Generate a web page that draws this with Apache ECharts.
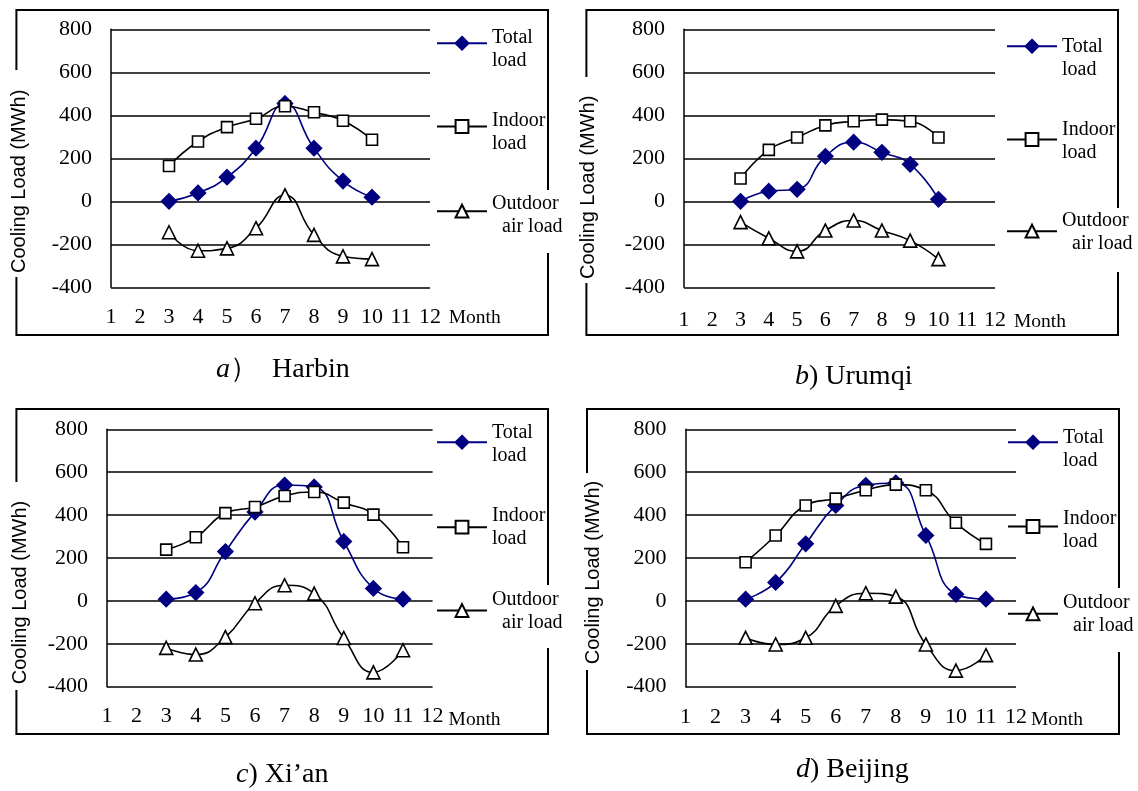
<!DOCTYPE html>
<html>
<head>
<meta charset="utf-8">
<script src="https://cdn.jsdelivr.net/npm/echarts@6/dist/echarts.min.js"></script>
<style>
html,body{margin:0;padding:0;background:#fff;}
#chart{width:1138px;height:791px;}
</style>
</head>
<body>
<div id="chart"></div>
<script>
// ---------- DATA ----------
const seriesNames = ['Total load', 'Indoor load', 'Outdoor air load'];
const legendLines = [['Total', 'load'], ['Indoor', 'load'], ['Outdoor', '  air load']];
const yTicks = [-400, -200, 0, 200, 400, 600, 800];
const monthTicks = [1,2,3,4,5,6,7,8,9,10,11,12];

const harbinMonths  = [3, 4, 5, 6, 7, 8, 9, 10];
const harbinTotal   = [0, 39, 112, 247, 455, 247, 94, 19];
const harbinIndoor  = [164, 278, 345, 384, 442, 414, 375, 286];
const harbinOutdoor = [-144, -230, -219, -125, 28, -156, -256, -269];

const urumqiMonths  = [3, 4, 5, 6, 7, 8, 9, 10];
const urumqiTotal   = [0, 47, 56, 209, 275, 228, 172, 9];
const urumqiIndoor  = [106, 239, 297, 353, 372, 380, 372, 297];
const urumqiOutdoor = [-97, -172, -233, -136, -89, -136, -183, -269];

const xianMonths  = [3, 4, 5, 6, 7, 8, 9, 10, 11];
const xianTotal   = [8, 39, 230, 414, 540, 531, 277, 58, 8];
const xianIndoor  = [239, 297, 409, 438, 489, 508, 458, 402, 250];
const xianOutdoor = [-219, -250, -169, -11, 73, 34, -173, -333, -230];

const beijingMonths  = [3, 4, 5, 6, 7, 8, 9, 10, 11];
const beijingTotal   = [8, 86, 266, 445, 539, 550, 305, 31, 8];
const beijingIndoor  = [180, 305, 445, 477, 516, 542, 516, 364, 266];
const beijingOutdoor = [-172, -203, -172, -23, 36, 20, -203, -325, -253];

const captionLetters = ['a', 'b', 'c', 'd'];
const captionNames = ['）  Harbin', ') Urumqi', ') Xi\u2019an', ') Beijing'];

// ---------- LAYOUT ----------
const panelData = [
  [harbinMonths, harbinTotal, harbinIndoor, harbinOutdoor],
  [urumqiMonths, urumqiTotal, urumqiIndoor, urumqiOutdoor],
  [xianMonths, xianTotal, xianIndoor, xianOutdoor],
  [beijingMonths, beijingTotal, beijingIndoor, beijingOutdoor]
];
const layout = [
  {grid:{left:111, top:29.3, width:319, height:258}, box:[16.4,10,548,335], lgap:[70,277], rgap:[190,253],
   legX:436, legY:[42.7,126,210.7], legShift:[5.7,5.5,4.3], yGap:82, xMargin:20, mGap:18.7, mDown:31, cap:[216,370]},
  {grid:{left:684, top:29.3, width:311, height:258}, box:[586.4,10,1118,335], lgap:[77,283], rgap:[208,272],
   legX:1006, legY:[45.7,139,230.7], legShift:[12,2,1.3], yGap:86, xMargin:23, mGap:19, mDown:35, cap:[795,377]},
  {grid:{left:107, top:429.3, width:325.6, height:257.4}, box:[16.4,409,548,734], lgap:[482,690], rgap:[585,648],
   legX:436, legY:[441.7,526.7,610], legShift:[2.3,0.5,1], yGap:77, xMargin:20, mGap:16, mDown:33, cap:[236,775]},
  {grid:{left:685.5, top:429.3, width:330.5, height:257.4}, box:[587,409,1119,734], lgap:[473,670], rgap:[588,652],
   legX:1007, legY:[441.7,526,613.3], legShift:[7,4,0.5], yGap:82, xMargin:21, mGap:14.7, mDown:33, cap:[796,770]}
];
const yNameShift = [23, 29, 34.5, 14.5];

const serif = 'Liberation Serif, Times New Roman, serif';
const sans = 'Liberation Sans, Arial, sans-serif';

const seriesStyles = [
  {color:'#000080', symbol:'diamond', size:15, fill:'#000080'},
  {color:'#000000', symbol:'rect', size:11, fill:'#ffffff'},
  {color:'#000000', symbol:'triangle', size:13, fill:'#ffffff'}
];

const grids = [], xAxes = [], yAxes = [], series = [], legends = [], titles = [], graphics = [];

layout.forEach((L, p) => {
  grids.push(Object.assign({containLabel:false}, L.grid));
  xAxes.push({
    type:'value', gridIndex:p, min:1, max:12, interval:1,
    axisLine:{show:false, onZero:false}, axisTick:{show:false}, splitLine:{show:false},
    axisLabel:{color:'#000', fontFamily:serif, fontSize:22, margin:L.xMargin - 1},
    name:'{s| }\n{m|Month}', nameLocation:'end', nameGap:L.mGap,
    nameTextStyle:{color:'#000', fontFamily:serif, fontSize:19.5, align:'left', verticalAlign:'middle',
      rich:{
        s:{fontSize:1, lineHeight:L.mDown*2},
        m:{fontFamily:serif, fontSize:19.5, lineHeight:22, color:'#000'}
      }}
  });
  yAxes.push({
    type:'value', gridIndex:p, min:yTicks[0], max:yTicks[yTicks.length-1], interval:200,
    axisLine:{show:true, lineStyle:{color:'#000', width:1.5}}, axisTick:{show:false},
    splitLine:{show:true, lineStyle:{color:'#000', width:1.5}},
    axisLabel:{color:'#000', fontFamily:serif, fontSize:22, margin:19},
    name:'Cooling Load (MWh)', nameLocation:'middle', nameGap:L.yGap,
    nameTextStyle:{color:'#000', fontFamily:sans, fontSize:20, padding:[0, yNameShift[p]*2, 0, 0]}
  });
  const d = panelData[p];
  for (let s = 0; s < 3; s++) {
    const st = seriesStyles[s];
    series.push({
      name:seriesNames[s], type:'line', xAxisIndex:p, yAxisIndex:p, smooth:true,
      data:d[0].map((m, i) => [m, d[s+1][i]]),
      symbol:st.symbol, symbolSize:st.size, showAllSymbol:true,
      lineStyle:{color:st.color, width:1.6},
      itemStyle:{color:st.fill, borderColor:st.color, borderWidth:1.6},
      emphasis:{disabled:true}, animation:false
    });
    const shift = L.legShift[s];
    const sp = Math.max(1, shift*2);
    const h = 46 + sp;
    legends.push({
      data:[seriesNames[s]], orient:'vertical', left:L.legX, top:L.legY[s] - h/2 + sp/2,
      itemWidth:50, itemHeight:16, itemGap:0, padding:0, selectedMode:false,
      formatter:() => '{s| }\n{t|' + legendLines[s][0] + '}\n{t|' + legendLines[s][1] + '}',
      textStyle:{color:'#000', fontFamily:serif, fontSize:20,
        rich:{
          s:{fontSize:1, lineHeight:sp},
          t:{fontFamily:serif, fontSize:20, lineHeight:23, color:'#000'}
        }}
    });
  }
  titles.push({
    text:'{i|' + captionLetters[p] + '}{n|' + captionNames[p] + '}',
    left:L.cap[0], top:L.cap[1] - 16, padding:0,
    textStyle:{fontWeight:'normal', rich:{
      i:{fontFamily:serif, fontStyle:'italic', fontWeight:'normal', fontSize:28, color:'#000', lineHeight:32},
      n:{fontFamily:serif, fontWeight:'normal', fontSize:28, color:'#000', lineHeight:32}
    }}
  });
  const [x1, y1, x2, y2] = L.box;
  graphics.push({type:'polyline', silent:true, z:0,
    shape:{points:[[x1, L.lgap[0]], [x1, y1], [x2, y1], [x2, L.rgap[0]]]},
    style:{stroke:'#000', lineWidth:2, fill:null}});
  graphics.push({type:'polyline', silent:true, z:0,
    shape:{points:[[x2, L.rgap[1]], [x2, y2], [x1, y2], [x1, L.lgap[1]]]},
    style:{stroke:'#000', lineWidth:2, fill:null}});
});

const chart = echarts.init(document.getElementById('chart'), null, {renderer:'canvas'});
chart.setOption({
  backgroundColor:'#fff', animation:false,
  grid:grids, xAxis:xAxes, yAxis:yAxes, series:series,
  legend:legends, title:titles, graphic:graphics
});
</script>
</body>
</html>
